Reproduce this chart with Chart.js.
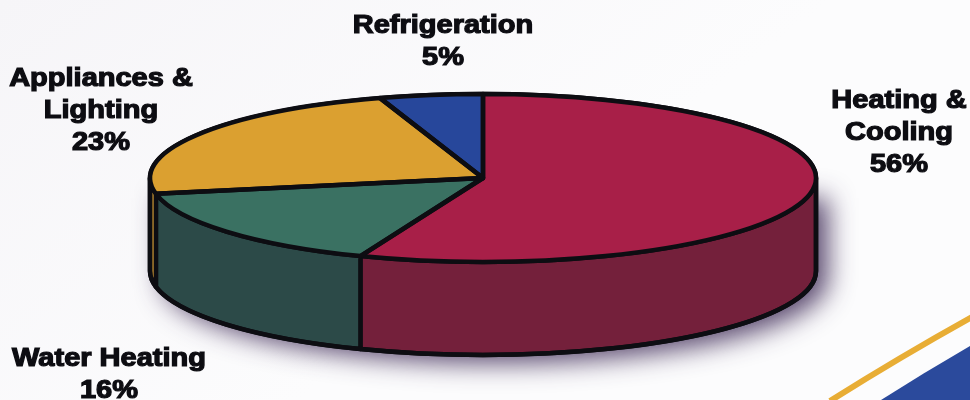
<!DOCTYPE html>
<html>
<head>
<meta charset="utf-8">
<title>Energy use</title>
<script src="https://cdn.jsdelivr.net/npm/chart.js@4"></script>
<style>
    html, body { margin: 0; padding: 0; background: #f8f7f9; overflow: hidden; }
    canvas { display: block; }
</style>
</head>
<body>
<canvas id="energyChart" width="970" height="400"></canvas>
<script>
const categories = ['Heating & Cooling', 'Water Heating', 'Appliances & Lighting', 'Refrigeration'];
const shares = [56, 16, 23, 5];
const topColors = ['#a81f48', '#3a7162', '#dba030', '#27479b'];
const sideColors = ['#74203b', '#2c4a48', '#d09a35', '#1b3270'];
const labelLines = [['Heating &', 'Cooling'], ['Water Heating'], ['Appliances &', 'Lighting'], ['Refrigeration']];

// where the flattened pie and its labels sit on the page
const pie = { cx: 483, cy: 178, rx: 333, ry: 84, depth: 93 };
const labelSpots = [
    { x: 899, y: 101 },
    { x: 109, y: 359 },
    { x: 101, y: 79 },
    { x: 443, y: 26 }
];
const lineHeight = 32;
const ink = '#0d0d12';
const textStretch = 1.16;

function bodyPath(ctx) {
    ctx.beginPath();
    ctx.ellipse(pie.cx, pie.cy, pie.rx, pie.ry, 0, Math.PI, Math.PI * 2);
    ctx.lineTo(pie.cx + pie.rx, pie.cy + pie.depth);
    ctx.ellipse(pie.cx, pie.cy + pie.depth, pie.rx, pie.ry, 0, 0, Math.PI);
    ctx.closePath();
}

const backdrop = {
    id: 'backdrop',
    beforeDraw(chart) {
        const ctx = chart.ctx;
        ctx.save();
        const paper = ctx.createLinearGradient(0, 0, 300, 400);
        paper.addColorStop(0, '#f6f5f8');
        paper.addColorStop(1, '#fcfcfd');
        ctx.fillStyle = paper;
        ctx.fillRect(0, 0, 970, 400);
        // swoosh in the bottom corner
        ctx.fillStyle = '#2b4a9c';
        ctx.beginPath();
        ctx.moveTo(881, 400);
        ctx.quadraticCurveTo(925, 372, 970, 346);
        ctx.lineTo(970, 400);
        ctx.closePath();
        ctx.fill();
        ctx.strokeStyle = '#e8ad35';
        ctx.lineWidth = 6;
        ctx.beginPath();
        ctx.moveTo(830, 401);
        ctx.quadraticCurveTo(900, 357, 972, 317);
        ctx.stroke();
        ctx.restore();
    }
};

const flatPie = {
    id: 'flatPie',
    beforeDatasetsDraw(chart) {
        const ctx = chart.ctx;
        const arcs = chart.getDatasetMeta(0).data;

        // soft shadow, only from the lower part so the top edge stays clean
        ctx.save();
        ctx.shadowColor = 'rgba(60, 40, 85, 0.85)';
        ctx.shadowBlur = 26;
        ctx.shadowOffsetX = 12;
        ctx.shadowOffsetY = 8;
        ctx.fillStyle = '#444';
        ctx.beginPath();
        ctx.moveTo(pie.cx - pie.rx, pie.cy + 12);
        ctx.lineTo(pie.cx + pie.rx, pie.cy + 12);
        ctx.lineTo(pie.cx + pie.rx, pie.cy + pie.depth);
        ctx.ellipse(pie.cx, pie.cy + pie.depth, pie.rx, pie.ry, 0, 0, Math.PI);
        ctx.closePath();
        ctx.fill();
        ctx.restore();

        // side wall, only the front half shows
        ctx.save();
        ctx.lineWidth = 4.5;
        ctx.strokeStyle = ink;
        ctx.lineJoin = 'round';
        arcs.forEach((arc, i) => {
            const a0 = Math.max(arc.startAngle, 0);
            const a1 = Math.min(arc.endAngle, Math.PI);
            if (a1 <= a0) return;
            ctx.fillStyle = sideColors[i];
            ctx.beginPath();
            ctx.ellipse(pie.cx, pie.cy, pie.rx, pie.ry, 0, a0, a1);
            ctx.ellipse(pie.cx, pie.cy + pie.depth, pie.rx, pie.ry, 0, a1, a0, true);
            ctx.closePath();
            ctx.fill();
            ctx.stroke();
        });
        bodyPath(ctx);
        ctx.stroke();
        ctx.restore();

        // squash the library's round pie into the top face
        const first = arcs[0];
        const sx = pie.rx / first.outerRadius;
        const sy = pie.ry / first.outerRadius;
        ctx.save();
        ctx.translate(pie.cx, pie.cy);
        ctx.scale(sx, sy);
        ctx.translate(-first.x, -first.y);
    },
    afterDatasetsDraw(chart) {
        const ctx = chart.ctx;
        const arcs = chart.getDatasetMeta(0).data;
        ctx.restore();

        // outlines drawn here so the line width stays even
        ctx.save();
        ctx.lineWidth = 4.5;
        ctx.strokeStyle = ink;
        ctx.lineJoin = 'round';
        arcs.forEach((arc) => {
            ctx.beginPath();
            ctx.moveTo(pie.cx, pie.cy);
            ctx.ellipse(pie.cx, pie.cy, pie.rx, pie.ry, 0, arc.startAngle, arc.endAngle);
            ctx.closePath();
            ctx.stroke();
        });
        ctx.restore();

        // labels, stretched a bit wider like the heavy print face
        ctx.save();
        ctx.font = 'bold 25px "Liberation Sans", Arial, sans-serif';
        ctx.textAlign = 'center';
        ctx.textBaseline = 'middle';
        ctx.fillStyle = ink;
        ctx.strokeStyle = ink;
        ctx.lineWidth = 1.2;
        shares.forEach((share, i) => {
            const lines = labelLines[i].concat(share + '%');
            lines.forEach((line, k) => {
                ctx.save();
                ctx.translate(labelSpots[i].x, labelSpots[i].y + k * lineHeight);
                ctx.scale(textStretch, 1);
                ctx.fillText(line, 0, 0);
                ctx.strokeText(line, 0, 0);
                ctx.restore();
            });
        });
        ctx.restore();
    }
};

new Chart(document.getElementById('energyChart').getContext('2d'), {
    type: 'pie',
    data: {
        labels: categories,
        datasets: [{
            data: shares,
            backgroundColor: topColors,
            borderWidth: 0
        }]
    },
    options: {
        responsive: false,
        animation: false,
        plugins: {
            legend: { display: false },
            tooltip: { enabled: false }
        }
    },
    plugins: [backdrop, flatPie]
});
</script>
</body>
</html>
